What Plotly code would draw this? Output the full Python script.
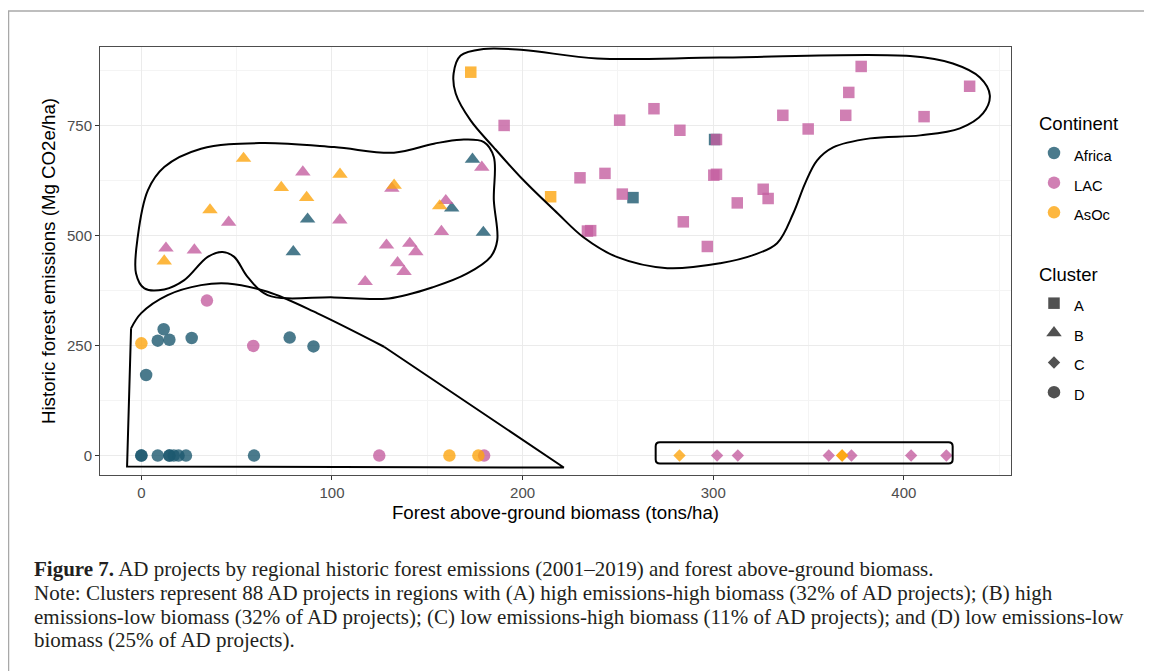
import plotly.graph_objects as go

# ---------------- data ----------------
# Cluster A: high emissions - high biomass
a_biomass   = [172.8, 190.3, 250.9, 268.9, 282.5, 300.7, 301.7, 230.1, 243.2, 301.7,
               300.3, 214.7, 252.3, 257.9, 234.0, 235.7, 284.3, 296.9, 377.6, 434.5,
               371.1, 336.5, 369.5, 410.6, 349.8, 326.2, 328.8, 312.6]
a_emissions = [871, 750, 762, 788, 739, 718, 718, 631, 641, 639,
               637, 588, 594, 586, 510, 511, 531, 475, 884, 839,
               825, 773, 773, 770, 742, 605, 584, 574]
a_continent = ["AsOc", "LAC", "LAC", "LAC", "LAC", "Africa", "LAC", "LAC", "LAC", "LAC",
               "LAC", "AsOc", "LAC", "Africa", "LAC", "LAC", "LAC", "LAC", "LAC", "LAC",
               "LAC", "LAC", "LAC", "LAC", "LAC", "LAC", "LAC", "LAC"]

# Cluster B: high emissions - low biomass
b_biomass   = [53.6, 84.7, 104.2, 73.4, 132.6, 131.4, 86.7, 36.0, 45.8, 87.2,
               104.1, 173.7, 178.6, 159.7, 156.5, 162.8, 157.4, 179.4, 12.9, 27.8,
               12.0, 79.7, 128.6, 140.8, 144.0, 134.4, 137.8, 117.4]
b_emissions = [675, 644, 639, 609, 614, 607, 586, 558, 530, 537,
               535, 673, 655, 579, 567, 562, 509, 507, 471, 467,
               442, 463, 478, 482, 463, 438, 418, 395]
b_continent = ["AsOc", "LAC", "AsOc", "AsOc", "AsOc", "LAC", "AsOc", "AsOc", "LAC", "Africa",
               "LAC", "Africa", "LAC", "LAC", "AsOc", "Africa", "LAC", "Africa", "LAC", "LAC",
               "AsOc", "Africa", "LAC", "LAC", "LAC", "LAC", "LAC", "LAC"]

# Cluster C: low emissions - high biomass
c_biomass   = [282.3, 302.0, 312.9, 360.6, 367.6, 367.6, 372.5, 403.8, 422.3]
c_emissions = [0, 0, 0, 0, 0, 0, 0, 0, 0]
c_continent = ["AsOc", "LAC", "LAC", "LAC", "AsOc", "AsOc", "LAC", "LAC", "LAC"]

# Cluster D: low emissions - low biomass
d_biomass   = [34.4, 11.7, 0.0, 8.6, 14.7, 26.4, 77.8, 58.7, 90.3, 2.5,
               0.0, 0.0, 8.6, 14.7, 14.7, 17.0, 19.5, 23.4, 59.1, 124.8,
               161.6, 176.8, 179.8]
d_emissions = [352, 287, 255, 261, 263, 267, 268, 249, 248, 183,
               0, 0, 0, 0, 0, 0, 0, 0, 0, 0,
               0, 0, 0]
d_continent = ["LAC", "Africa", "AsOc", "Africa", "Africa", "Africa", "Africa", "LAC", "Africa", "Africa",
               "Africa", "Africa", "Africa", "Africa", "Africa", "Africa", "Africa", "Africa", "Africa", "LAC",
               "AsOc", "AsOc", "LAC"]

continents = ["Africa", "LAC", "AsOc"]
clusters = ["A", "B", "C", "D"]

# hand-drawn cluster outlines (data units)
hull_a_x = [167.5, 179.5, 200.5, 239.2, 303.7, 403.2, 425.7, 439.9, 445.1, 441.5,
            429.4, 408.5, 382.3, 362.9, 354.5, 348.2, 342.0, 333.5, 320.9, 303.7,
            275.9, 249.7, 231.9, 218.3, 200.5, 184.8, 172.7, 164.9, 163.8, 167.5]
hull_a_y = [908.8, 923.6, 921.3, 902.0, 904.3, 907.7, 890.7, 858.9, 818.1, 777.3,
            743.3, 727.4, 720.6, 700.2, 670.7, 618.5, 550.5, 482.5, 455.3, 437.1,
            425.8, 450.7, 496.1, 550.5, 625.3, 700.2, 761.4, 822.6, 868.0, 908.8]
hull_b_x = [1.6, -2.8, -1.9, 3.4, 12.0, 31.3, 62.7, 101.1, 132.5, 153.5,
            167.5, 179.7, 184.9, 184.9, 186.7, 183.2, 171.0, 153.5, 129.9, 101.1,
            66.2, 55.7, 48.7, 42.6, 34.8, 22.5, 12.0, 1.6]
hull_b_y = [379.7, 413.7, 496.7, 602.6, 655.5, 697.2, 709.9, 700.8, 688.1, 708.5,
            717.6, 712.2, 678.2, 580.0, 489.2, 451.4, 413.7, 383.3, 357.0, 359.3,
            364.5, 406.0, 451.4, 462.7, 451.4, 398.5, 377.4, 379.7]
hull_d_curve_x = [-5.4, -0.2, 13.8, 31.3, 45.3, 66.2, 92.4, 127.3]
hull_d_curve_y = [289.0, 323.0, 364.5, 387.2, 391.0, 372.0, 323.0, 247.2]
hull_d_line_x = [127.3, 221.6, -7.5, -5.4]
hull_d_line_y = [247.2, -27.2, -24.9, 289.0]
hull_c_box = dict(x0=269.8, x1=425.6, y0=-18.1, y1=30.2)

colors = {"Africa": "#1D596F", "LAC": "#C45FA0", "AsOc": "#FDA50F"}
symbols = {"A": "square", "B": "triangle-up", "C": "diamond", "D": "circle"}
sizes = {"A": 11.5, "B": 13.5, "C": 9.5, "D": 12.5}

cluster_data = {
    "A": (a_biomass, a_emissions, a_continent),
    "B": (b_biomass, b_emissions, b_continent),
    "C": (c_biomass, c_emissions, c_continent),
    "D": (d_biomass, d_emissions, d_continent),
}

fig = go.Figure()

# points
for cl in clusters:
    xs, ys, cs = cluster_data[cl]
    for ct in continents:
        px_ = [x for x, c in zip(xs, cs) if c == ct]
        py_ = [y for y, c in zip(ys, cs) if c == ct]
        if not px_:
            continue
        fig.add_trace(go.Scatter(
            x=px_, y=py_, mode="markers", showlegend=False, cliponaxis=False,
            marker=dict(symbol=symbols[cl], size=sizes[cl], color=colors[ct],
                        opacity=0.8, line=dict(width=0)),
            hoverinfo="x+y"))

# outlines
line_style = dict(color="black", width=2)
fig.add_trace(go.Scatter(x=hull_a_x, y=hull_a_y, mode="lines", line=dict(**line_style, shape="spline", smoothing=1),
                         showlegend=False, hoverinfo="skip", cliponaxis=False))
fig.add_trace(go.Scatter(x=hull_b_x, y=hull_b_y, mode="lines", line=dict(**line_style, shape="spline", smoothing=1),
                         showlegend=False, hoverinfo="skip", cliponaxis=False))
fig.add_trace(go.Scatter(x=hull_d_curve_x, y=hull_d_curve_y, mode="lines", line=dict(**line_style, shape="spline", smoothing=1),
                         showlegend=False, hoverinfo="skip", cliponaxis=False))
fig.add_trace(go.Scatter(x=hull_d_line_x, y=hull_d_line_y, mode="lines", line=line_style,
                         showlegend=False, hoverinfo="skip", cliponaxis=False))
# rounded rectangle for cluster C
bx0, bx1, by0, by1 = hull_c_box["x0"], hull_c_box["x1"], hull_c_box["y0"], hull_c_box["y1"]
rx, ry = 2.2, 9.0
fig.add_shape(type="path", xref="x", yref="y",
              path=(f"M{bx0+rx},{by1} L{bx1-rx},{by1} Q{bx1},{by1} {bx1},{by1-ry} "
                    f"L{bx1},{by0+ry} Q{bx1},{by0} {bx1-rx},{by0} L{bx0+rx},{by0} "
                    f"Q{bx0},{by0} {bx0},{by0+ry} L{bx0},{by1-ry} Q{bx0},{by1} {bx0+rx},{by1} Z"),
              line=dict(color="black", width=2))

# legend entries
LEG_FONT = 20.5
TITLE_FONT = 24
def leg_name(t):
    return f'<span style="font-size:14.7px">{t}</span>'

def leg_title(t):
    return f'<span style="font-size:18.5px">{t}</span>'

for ct in continents:
    fig.add_trace(go.Scatter(
        x=[None], y=[None], mode="markers", name=leg_name(ct), legendgroup="continent",
        legendgrouptitle=dict(text=leg_title("Continent"), font=dict(size=TITLE_FONT)),
        marker=dict(symbol="circle", size=12.5, color=colors[ct], opacity=0.8)))
for cl in clusters:
    fig.add_trace(go.Scatter(
        x=[None], y=[None], mode="markers", name=leg_name(cl), legendgroup="cluster",
        legendgrouptitle=dict(text=leg_title("Cluster"), font=dict(size=TITLE_FONT)),
        marker=dict(symbol=symbols[cl], size=sizes[cl], color="#333333", opacity=0.85)))

# page is offset by the 8px body margin; figure coordinates below are page - 8
W, H = 1144, 663
L, R, T, B = 92, 1003, 39, 467

def px2paper_x(p):
    return (p - L) / (R - L)

def px2paper_y(p):
    return (B - p) / (B - T)

axis_common = dict(
    showline=True, mirror=True, linecolor="#4d4d4d", linewidth=1,
    ticks="outside", ticklen=4, tickcolor="#333333", tickwidth=1,
    tickfont=dict(family="Liberation Sans", size=15, color="#4d4d4d"),
    showgrid=True, gridcolor="#ebebeb", gridwidth=1, zeroline=False,
)

fig.update_layout(
    width=W, height=H,
    margin=dict(l=L, r=W - R, t=T, b=H - B, pad=0),
    paper_bgcolor="white", plot_bgcolor="white",
    font=dict(family="Liberation Sans", color="black"),
    xaxis=dict(**axis_common, range=[-21.7, 456.2], tickvals=[0, 100, 200, 300, 400],
               minor=dict(dtick=50, tick0=0, showgrid=True, gridcolor="#f4f4f4", gridwidth=1, ticks=""),
               title=dict(text="Forest above-ground biomass (tons/ha)", font=dict(size=18.7), standoff=5)),
    yaxis=dict(**axis_common, range=[-44.2, 928.2], tickvals=[0, 250, 500, 750],
               minor=dict(dtick=125, tick0=0, showgrid=True, gridcolor="#f4f4f4", gridwidth=1, ticks=""),
               title=dict(text="Historic forest emissions (Mg CO2e/ha)", font=dict(size=18.7), standoff=6)),
    legend=dict(xref="container", yref="container", x=1026 / W, y=1 - 91 / H,
                xanchor="left", yanchor="top", font=dict(size=LEG_FONT, family="Liberation Sans", color="black"),
                tracegroupgap=27, itemsizing="trace", bgcolor="rgba(0,0,0,0)", borderwidth=0),
    showlegend=True,
)

# outer frame lines (top and left)
fig.add_shape(type="line", xref="paper", yref="paper", x0=px2paper_x(0), x1=px2paper_x(W + 5),
              y0=px2paper_y(3), y1=px2paper_y(3), line=dict(color="#a8a8a8", width=1.5))
fig.add_shape(type="line", xref="paper", yref="paper", x0=px2paper_x(0.5), x1=px2paper_x(0.5),
              y0=px2paper_y(3), y1=px2paper_y(H + 5), line=dict(color="#a8a8a8", width=1.5))

# caption
caption_lines = [
    "<b>Figure 7.</b> AD projects by regional historic forest emissions (2001–2019) and forest above-ground biomass.",
    "Note: Clusters represent 88 AD projects in regions with (A) high emissions-high biomass (32% of AD projects); (B) high",
    "emissions-low biomass (32% of AD projects); (C) low emissions-high biomass (11% of AD projects); and (D) low emissions-low",
    "biomass (25% of AD projects).",
]
caption_y = [561, 585, 608.5, 632]
for txt, yy in zip(caption_lines, caption_y):
    fig.add_annotation(text=txt, xref="paper", yref="paper", x=px2paper_x(24), y=px2paper_y(yy),
                       xanchor="left", yanchor="middle", showarrow=False, align="left",
                       font=dict(family="Liberation Serif", size=21, color="#231f20"))

fig.write_html("out.html")
